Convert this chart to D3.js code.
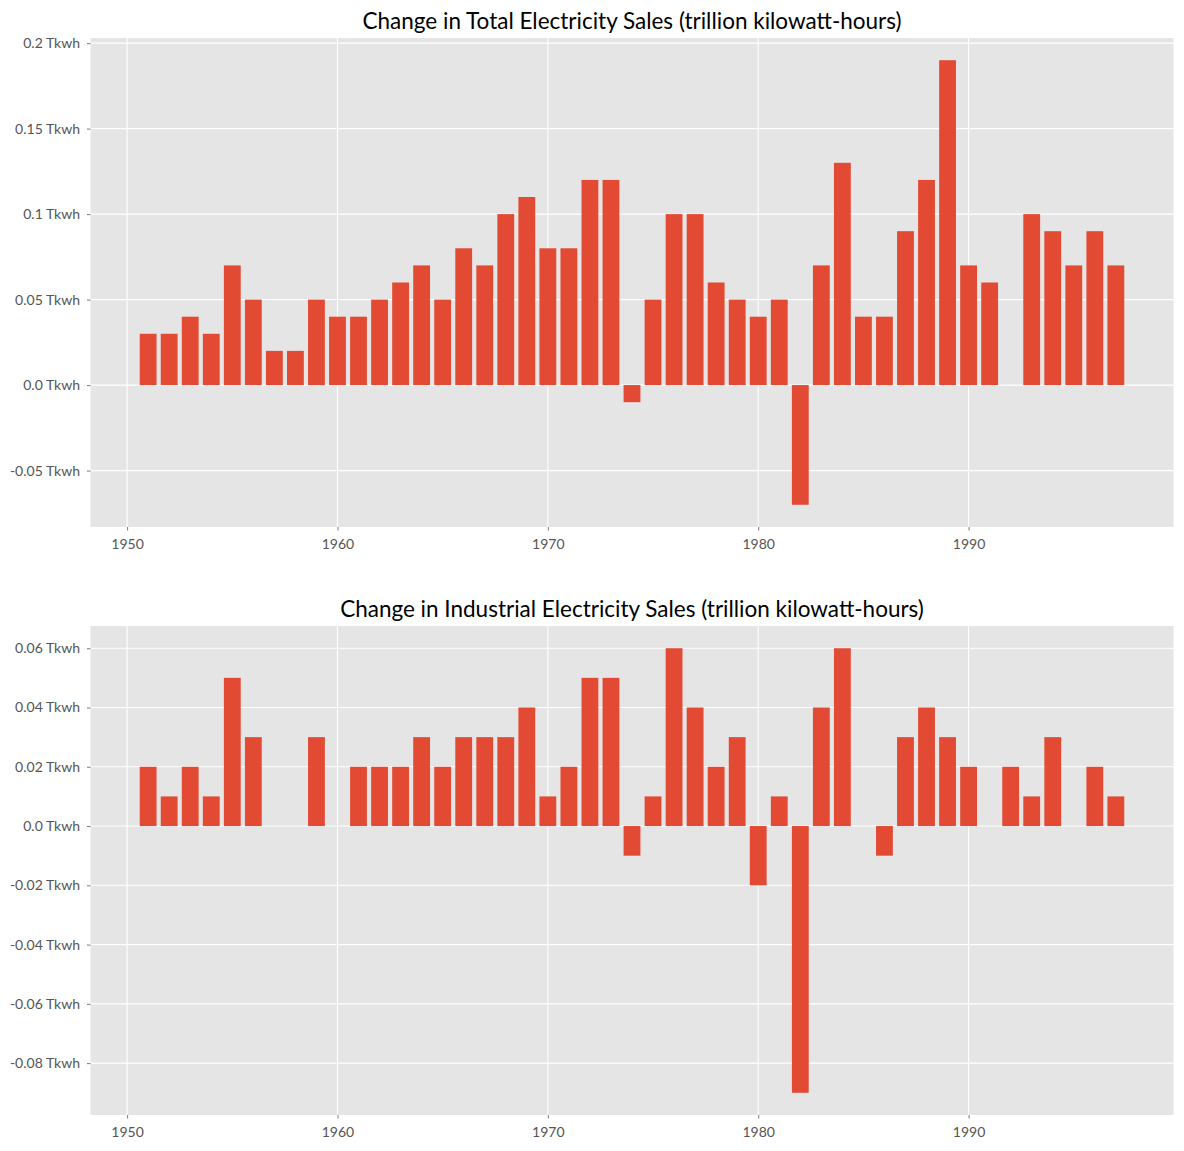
<!DOCTYPE html>
<html><head><meta charset="utf-8">
<script src="https://cdn.jsdelivr.net/npm/d3@7"></script>
<style>body{margin:0;background:#fff;} text{font-family:Lato,"Open Sans",sans-serif;}</style>
</head><body>
<svg id="c" width="1184" height="1151"></svg>
<script>
const years = d3.range(1951, 1998);
const totalChange = [0.03,0.03,0.04,0.03,0.07,0.05,0.02,0.02,0.05,0.04,0.04,0.05,0.06,0.07,0.05,0.08,0.07,0.10,0.11,0.08,0.08,0.12,0.12,-0.01,0.05,0.10,0.10,0.06,0.05,0.04,0.05,-0.07,0.07,0.13,0.04,0.04,0.09,0.12,0.19,0.07,0.06,0,0.10,0.09,0.07,0.09,0.07];
const industrialChange = [0.02,0.01,0.02,0.01,0.05,0.03,0,0,0.03,0,0.02,0.02,0.02,0.03,0.02,0.03,0.03,0.03,0.04,0.01,0.02,0.05,0.05,-0.01,0.01,0.06,0.04,0.02,0.03,-0.02,0.01,-0.09,0.04,0.06,0,-0.01,0.03,0.04,0.03,0.02,0,0.02,0.01,0.03,0,0.02,0.01];
const titles = ["Change in Total Electricity Sales (trillion kilowatt-hours)","Change in Industrial Electricity Sales (trillion kilowatt-hours)"];
const xTicks = [1950,1960,1970,1980,1990];
const yTicksTop = [-0.05,0,0.05,0.1,0.15,0.2];
const yTicksBottom = [-0.08,-0.06,-0.04,-0.02,0,0.02,0.04,0.06];
const yLabelsTop = ["-0.05","0.0","0.05","0.1","0.15","0.2"];
const yLabelsBottom = ["-0.08","-0.06","-0.04","-0.02","0.0","0.02","0.04","0.06"];

const svg = d3.select("#c");
const L = 90.5, R = 1173.5, W = R - L;
const panels = [
  {vals: totalChange, top: 38, bottom: 527, ticks: yTicksTop, labels: yLabelsTop, title: titles[0]},
  {vals: industrialChange, top: 626, bottom: 1115, ticks: yTicksBottom, labels: yLabelsBottom, title: titles[1]}
];
const barW = 0.8;
panels.forEach(p => {
  const lo = Math.min(0, d3.min(p.vals)), hi = Math.max(0, d3.max(p.vals));
  const ym = (hi - lo) * 0.05;
  const xlo = years[0] - barW/2, xhi = years[years.length-1] + barW/2, xm = (xhi - xlo) * 0.05;
  const x = d3.scaleLinear().domain([xlo - xm, xhi + xm]).range([L, R]);
  const y = d3.scaleLinear().domain([lo - ym, hi + ym]).range([p.bottom, p.top]);
  const g = svg.append("g");
  g.append("rect").attr("x", L).attr("y", p.top).attr("width", W).attr("height", p.bottom - p.top).attr("fill", "#E5E5E5");
  g.selectAll(".gx").data(xTicks).enter().append("line")
    .attr("x1", d => x(d)).attr("x2", d => x(d)).attr("y1", p.top).attr("y2", p.bottom)
    .attr("stroke", "#fff").attr("stroke-width", 1.1);
  g.selectAll(".gy").data(p.ticks).enter().append("line")
    .attr("x1", L).attr("x2", R).attr("y1", d => y(d)).attr("y2", d => y(d))
    .attr("stroke", "#fff").attr("stroke-width", 1.1);
  g.selectAll(".bar").data(years.map((yr, i) => ({yr, v: p.vals[i]}))).enter().append("rect")
    .attr("x", d => x(d.yr - barW/2)).attr("width", d => x(d.yr + barW/2) - x(d.yr - barW/2))
    .attr("y", d => y(Math.max(0, d.v))).attr("height", d => Math.abs(y(d.v) - y(0)))
    .attr("fill", "#E24A33");
  const xa = d3.axisBottom(x).tickValues(xTicks).tickFormat(d3.format("d")).tickSize(3.5).tickPadding(9);
  const gx = g.append("g").attr("transform", `translate(0,${p.bottom})`).call(xa);
  const ya = d3.axisLeft(y).tickValues(p.ticks).tickFormat((d, i) => p.labels[i] + " Tkwh").tickSize(3.5).tickPadding(7);
  const gy = g.append("g").attr("transform", `translate(${L},0)`).call(ya);
  [gx, gy].forEach(a => {
    a.select(".domain").remove();
    a.selectAll(".tick line").attr("stroke", "#555").attr("stroke-width", 0.8);
    a.selectAll(".tick text").attr("fill", "#555").style("font-size", "14px").style("font-family", "Lato, sans-serif");
  });
  svg.append("text").attr("x", (L + R) / 2).attr("y", p.top - 9).attr("text-anchor", "middle")
    .style("font-size", "22.5px").attr("fill", "#000").text(p.title);
});
</script>
</body></html>
